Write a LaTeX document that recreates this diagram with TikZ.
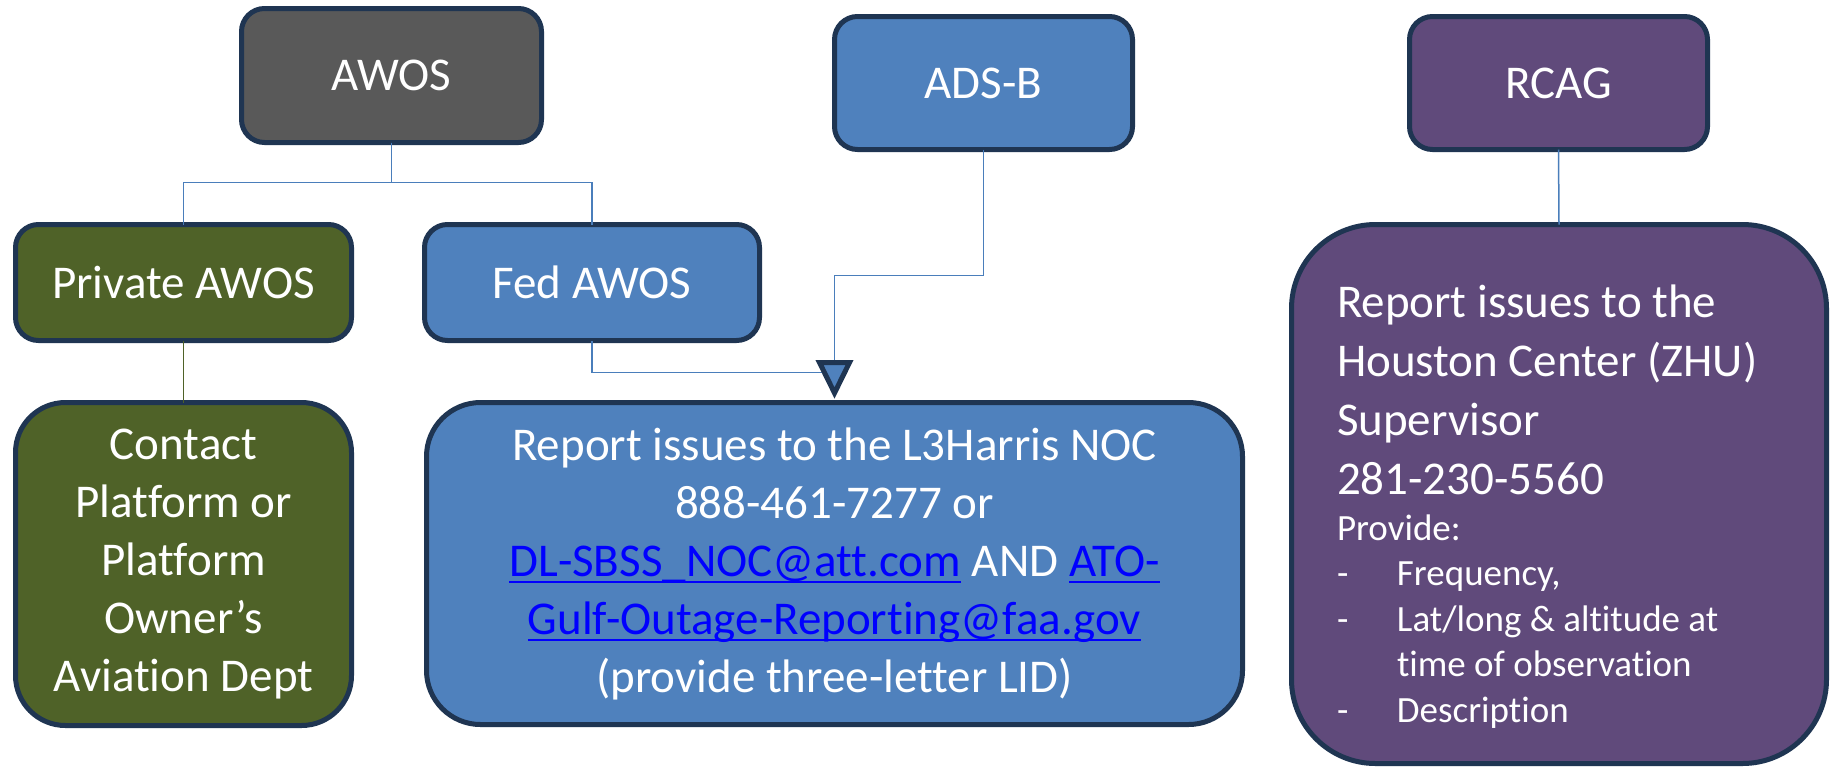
\documentclass[tikz,border=0pt]{standalone}
\usepackage{fontspec}
\setmainfont{Carlito}[Ligatures=NoCommon]
\usetikzlibrary{calc}
\definecolor{navy}{HTML}{1F3552}
\definecolor{grayfill}{HTML}{595959}
\definecolor{olivefill}{HTML}{4F6228}
\definecolor{fedblue}{HTML}{4F81BD}
\definecolor{purp}{HTML}{604A7B}
\definecolor{connblue}{HTML}{4A7EBB}
\definecolor{linkblue}{HTML}{0000FF}
\newsavebox{\lnkbox}
\newcommand{\lnk}[1]{{\color{linkblue}\sbox{\lnkbox}{#1}\rlap{\rule[-3.5pt]{\wd\lnkbox}{1pt}}\usebox{\lnkbox}}}
\begin{document}
\begin{tikzpicture}[x=0.5pt,y=-0.5pt,
  box/.style={draw=navy, line width=2.5pt, rounded corners=#1, text=white,
    inner sep=0pt, outer sep=0pt, align=center,
    font=\fontsize{23.5}{29}\selectfont},
  box/.default=11.5pt,
  conn/.style={draw=connblue, line width=0.75pt},
  oliveconn/.style={draw=olivefill, line width=0.75pt},
  tristyle/.style={draw=navy, fill=fedblue, line width=2.5pt, line join=miter}]
\useasboundingbox[fill=white] (0,0) rectangle (1831,767);

% top row
\node[box, fill=grayfill, minimum width=150pt, minimum height=67pt] (awos) at (391.5,75.5) {AWOS};
\node[box, fill=fedblue, minimum width=149pt, minimum height=66.5pt] (adsb) at (983.5,83) {ADS-B};
\node[box, fill=purp, minimum width=149pt, minimum height=66.5pt] (rcag) at (1558.5,83) {RCAG};

% second row
\node[box, fill=olivefill, minimum width=168pt, minimum height=58pt] (priv) at (183.5,282.5) {Private AWOS};
\node[box, fill=fedblue, minimum width=167.5pt, minimum height=58pt] (fed) at (592,282.5) {Fed AWOS};

% bottom boxes
\node[box=25pt, fill=olivefill, minimum width=168pt, minimum height=161.5pt] (contact) at (183.5,564)
  {Contact\\Platform or\\Platform\\Owner’s\\Aviation Dept};
\node[box=27pt, fill=fedblue, minimum width=408pt, minimum height=161pt] (l3) at (834.5,563.5)
  {Report issues to the L3Harris NOC\\
   888-461-7277 or\\
   \lnk{DL-SBSS\_NOC@att.com} AND \lnk{ATO-}\\
   \lnk{Gulf-Outage-Reporting@faa.gov}\\
   (provide three-letter LID)};
\node[box=42pt, fill=purp, minimum width=267.5pt, minimum height=269.5pt,
      text width=222pt, align=flush left] (zhu) at (1559,494)
  {{\fontsize{23.5}{29.5}\selectfont \rule{0pt}{29pt}Report issues to the\\Houston Center (ZHU)\\Supervisor\\281-230-5560\par}
   {\fontsize{18.5}{22.75}\selectfont Provide:\\
    \makebox[30pt][l]{-}Frequency,\\
    \makebox[30pt][l]{-}Lat/long \& altitude at\\
    \hspace*{30pt}time of observation\\
    \makebox[30pt][l]{-}Description\par}};

% connectors
\coordinate (tri) at ($(l3.north)+(0,-40)$);
\draw[conn] (awos.south) -- ++(0,40) -| (priv.north);
\draw[conn] (awos.south) -- ++(0,40) -| (fed.north);
\draw[oliveconn] (priv.south) -- (contact.north);
\draw[conn] (fed.south) |- ($(tri)+(0,10)$);
\draw[conn] (adsb.south) -- ++(0,126) -| (tri);
\draw[conn] (rcag.south) -- (zhu.north);
\draw[tristyle] ($(tri)+(-15,0)$) -- ($(tri)+(15,0)$) -- ($(tri)+(0,30.5)$) -- cycle;
\end{tikzpicture}
\end{document}
